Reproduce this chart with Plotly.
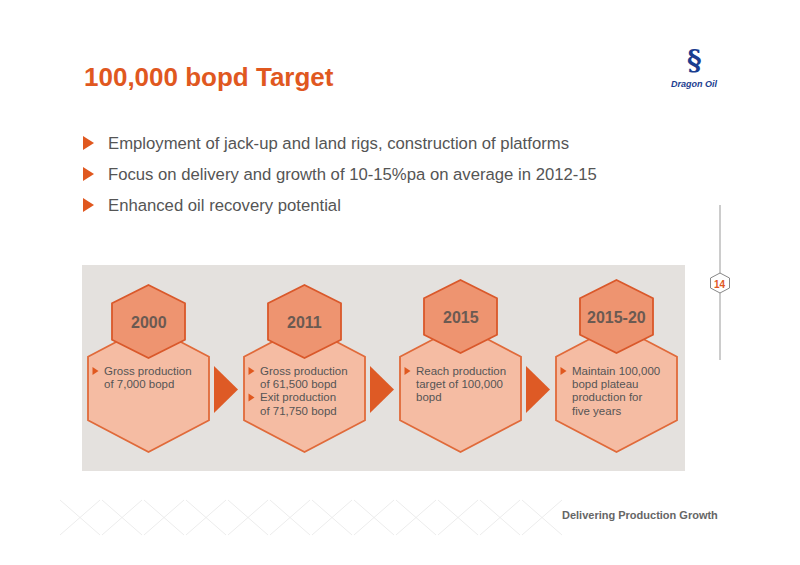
import plotly.graph_objects as go

# slide content
title = "100,000 bopd Target"
bullets = [
    "Employment of jack-up and land rigs, construction of platforms",
    "Focus on delivery and growth of 10-15%pa on average in 2012-15",
    "Enhanced oil recovery potential",
]
years = ["2000", "2011", "2015", "2015-20"]
details = [
    [["Gross production", "of 7,000 bopd"]],
    [["Gross production", "of 61,500 bopd"], ["Exit production", "of 71,750 bopd"]],
    [["Reach production", "target of 100,000", "bopd"]],
    [["Maintain 100,000", "bopd plateau", "production for", "five years"]],
]
page_no = "14"
footer = "Delivering Production Growth"

ORANGE = "#e0581f"
GREY_TXT = "#555555"


def hex_path(cx, top, bot, halfw):
    h = bot - top
    q = h / 4
    pts = [(cx, top), (cx + halfw, top + q), (cx + halfw, bot - q),
           (cx, bot), (cx - halfw, bot - q), (cx - halfw, top + q)]
    return "M " + " L ".join(f"{x},{y}" for x, y in pts) + " Z"


fig = go.Figure()
shapes = []
annotations = []

# grey band
shapes.append(dict(type="rect", x0=82, x1=685, y0=265, y1=471,
                   fillcolor="#e4e1de", line_width=0, layer="below"))

centers = [148.5, 304.5, 460.5, 616.5]
lifts = [0, 0, 5, 5]
for i, cx in enumerate(centers):
    shapes.append(dict(type="path", path=hex_path(cx, 325, 452, 60.5),
                       fillcolor="#f5bca3", line=dict(color="#e06a3a", width=1.8)))
    lt = lifts[i]
    shapes.append(dict(type="path", path=hex_path(cx, 285 - lt, 358 - lt, 36.5),
                       fillcolor="#ee9470", line=dict(color="#d9582a", width=1.8)))
    annotations.append(dict(x=cx, y=322 - lt, text=f"<b>{years[i]}</b>", showarrow=False,
                            font=dict(size=16, color="#6b5a52", family="Arial")))
    y = 371
    for item in details[i]:
        shapes.append(dict(type="path",
                           path=f"M {cx-56},{y-4} L {cx-50},{y} L {cx-56},{y+4} Z",
                           fillcolor=ORANGE, line_width=0))
        for line in item:
            annotations.append(dict(x=cx - 47, y=y, text=line, showarrow=False,
                                    xanchor="left", yanchor="middle",
                                    font=dict(size=11.5, color=GREY_TXT, family="Arial")))
            y += 13.2
    if i < 3:
        ax = cx + 65.5
        shapes.append(dict(type="path",
                           path=f"M {ax},366 L {ax+24},389.5 L {ax},413 Z",
                           fillcolor="#de5a25", line_width=0))

# title and bullets
annotations.append(dict(x=82, y=77, text=f"<b>{title}</b>", showarrow=False,
                        xanchor="left", yanchor="middle",
                        font=dict(size=26, color=ORANGE, family="Arial")))
for k, b in enumerate(bullets):
    y = 143 + 31 * k
    shapes.append(dict(type="path", path=f"M 83,{y-7} L 94,{y} L 83,{y+7} Z",
                       fillcolor=ORANGE, line_width=0))
    annotations.append(dict(x=106, y=y, text=b, showarrow=False, xanchor="left",
                            yanchor="middle", font=dict(size=16.7, color=GREY_TXT, family="Arial")))

# page marker
shapes.append(dict(type="line", x0=720, x1=720, y0=205, y1=360,
                   line=dict(color="#999999", width=1)))
shapes.append(dict(type="path", path=hex_path(720, 273, 293, 9.5),
                   fillcolor="white", line=dict(color="#888888", width=1)))
annotations.append(dict(x=720, y=284, text=f"<b>{page_no}</b>", showarrow=False,
                        font=dict(size=10, color=ORANGE, family="Arial")))

# logo
annotations.append(dict(x=694, y=60, text="<b>§</b>", showarrow=False,
                        font=dict(size=28, color="#1a3d8f", family="DejaVu Serif")))
annotations.append(dict(x=694, y=84, text="<b><i>Dragon Oil</i></b>", showarrow=False,
                        font=dict(size=9, color="#1a3d8f", family="Arial")))

# footer
for j in range(0, 12):
    shapes.append(dict(type="line", x0=60 + j * 42, x1=100 + j * 42, y0=500, y1=535,
                       line=dict(color="#ececec", width=1)))
    shapes.append(dict(type="line", x0=100 + j * 42, x1=60 + j * 42, y0=500, y1=535,
                       line=dict(color="#ececec", width=1)))
annotations.append(dict(x=720, y=515, text=f"<b>{footer}</b>", showarrow=False,
                        xanchor="right", yanchor="middle",
                        font=dict(size=11, color="#666666", family="Arial")))

fig.update_layout(
    width=800, height=565,
    margin=dict(l=0, r=0, t=0, b=0),
    paper_bgcolor="white", plot_bgcolor="white",
    xaxis=dict(range=[8, 808], visible=False, fixedrange=True),
    yaxis=dict(range=[573, 8], visible=False, fixedrange=True),
    shapes=shapes, annotations=annotations, showlegend=False,
)

fig.write_html("out.html")
